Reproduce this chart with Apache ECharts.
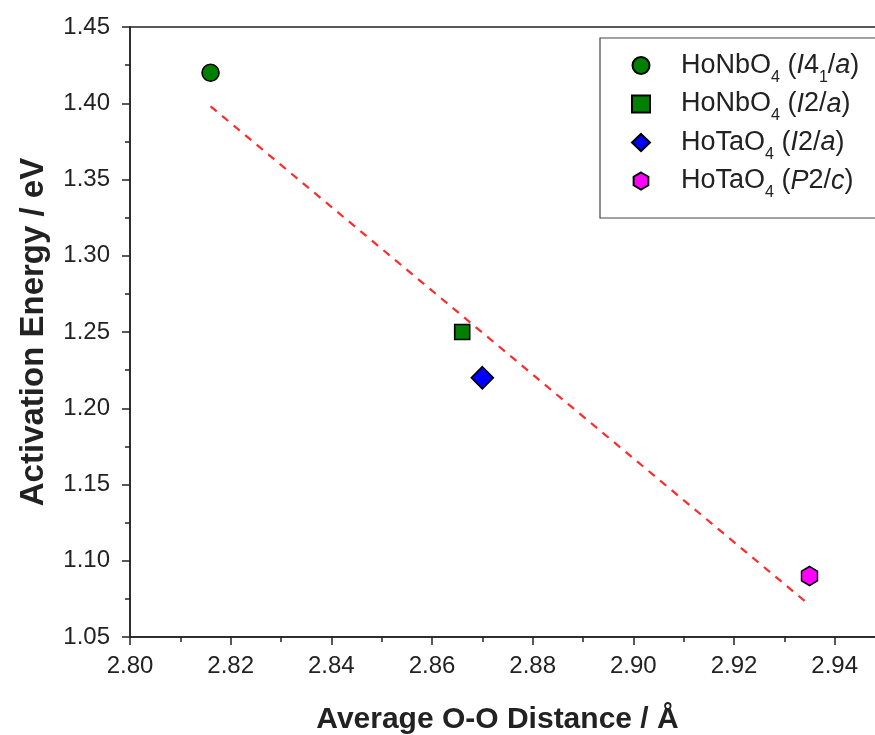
<!DOCTYPE html>
<html>
<head>
<meta charset="utf-8">
<script src="https://cdn.jsdelivr.net/npm/echarts@6/dist/echarts.min.js"></script>
<style>
html,body{margin:0;padding:0;background:#fff;overflow:hidden;}
#c{width:875px;height:735px;}
</style>
</head>
<body>
<div id="c"></div>
<script>
// ---- data ----
const seriesNames = ['HoNbO4 (I41/a)', 'HoNbO4 (I2/a)', 'HoTaO4 (I2/a)', 'HoTaO4 (P2/c)'];
const legendRich = [
  '{n|HoNbO}{s|4}{n| (}{i|I}{n|4}{s|1}{n|/}{i|a}{n|)}',
  '{n|HoNbO}{s|4}{n| (}{i|I}{n|2/}{i|a}{n|)}',
  '{n|HoTaO}{s|4}{n| (}{i|I}{n|2/}{i|a}{n|)}',
  '{n|HoTaO}{s|4}{n| (}{i|P}{n|2/}{i|c}{n|)}'
];
const distance = [2.816, 2.866, 2.870, 2.935];
const energy = [1.42, 1.25, 1.22, 1.09];
const fitX = [2.816, 2.935];
const fitY = [1.398, 1.071];
const xTicks = {min: 2.80, max: 2.95, interval: 0.02};
const yTicks = {min: 1.05, max: 1.45, interval: 0.05};

const colors = ['#007f00', '#007f00', '#0000ff', '#ff00ff'];
const symbols = ['circle', 'rect', 'diamond', 'path://M0,-10 L8.66,-5 L8.66,5 L0,10 L-8.66,5 L-8.66,-5 Z'];
const sizes = [17, 15, 22, [16, 19]];
const FONT = '"Liberation Sans", Arial, sans-serif';

const chart = echarts.init(document.getElementById('c'));
const scatterSeries = seriesNames.map((nm, i) => ({
  name: nm,
  type: 'scatter',
  symbol: symbols[i],
  symbolSize: sizes[i],
  itemStyle: {color: colors[i], borderColor: '#000', borderWidth: 1.6, opacity: 1},
  emphasis: {disabled: true},
  data: [[distance[i], energy[i]]],
  z: 5
}));

chart.setOption({
  animation: false,
  backgroundColor: '#fff',
  grid: {left: 130, width: 755, top: 27, bottom: 98, outerBoundsMode: 'none', containLabel: false,
    show: true, borderColor: '#222', borderWidth: 1.5, backgroundColor: 'transparent'},
  xAxis: {
    type: 'value', min: xTicks.min, max: xTicks.max, interval: xTicks.interval,
    name: 'Average O-O Distance / Å', nameLocation: 'middle', nameGap: 68,
    nameTextStyle: {fontFamily: FONT, fontSize: 30, fontWeight: 'bold', color: '#222', padding: [0, 20, 0, 0]},
    axisLine: {lineStyle: {color: '#222', width: 1.5}},
    axisTick: {show: true, inside: false, length: 8, lineStyle: {color: '#222', width: 1.5}},
    minorTick: {show: true, splitNumber: 2, length: 5, lineStyle: {color: '#222', width: 1.5}},
    splitLine: {show: false},
    axisLabel: {fontFamily: FONT, fontSize: 24, color: '#222', margin: 17, showMaxLabel: false,
      formatter: v => v.toFixed(2)}
  },
  yAxis: {
    type: 'value', min: yTicks.min, max: yTicks.max, interval: yTicks.interval,
    name: 'Activation Energy / eV', nameLocation: 'middle', nameGap: 80,
    nameTextStyle: {fontFamily: FONT, fontSize: 33, fontWeight: 'bold', color: '#222'},
    axisLine: {lineStyle: {color: '#222', width: 1.5}},
    axisTick: {show: true, inside: false, length: 8, lineStyle: {color: '#222', width: 1.5}},
    minorTick: {show: true, splitNumber: 2, length: 5, lineStyle: {color: '#222', width: 1.5}},
    splitLine: {show: false},
    axisLabel: {fontFamily: FONT, fontSize: 24, color: '#222', margin: 20,
      formatter: v => v.toFixed(2)}
  },
  legend: {
    orient: 'vertical', left: 600, top: 38,
    data: seriesNames,
    backgroundColor: '#fff', borderColor: '#444', borderWidth: 1.2, borderRadius: 0,
    padding: [14, 30, 17, 31], itemGap: 5, itemWidth: 18, itemHeight: 17,
    formatter: name => legendRich[seriesNames.indexOf(name)],
    textStyle: {
      fontFamily: FONT, color: '#222', padding: [0, 0, 0, 26],
      rich: {
        n: {fontFamily: FONT, fontSize: 27, color: '#222', lineHeight: 28},
        i: {fontFamily: FONT, fontSize: 27, color: '#222', fontStyle: 'italic', lineHeight: 28},
        s: {fontFamily: FONT, fontSize: 16, color: '#222', verticalAlign: 'bottom', lineHeight: 15, padding: [0, 0, -6, 0]}
      }
    }
  },
  series: [
    {
      name: 'fit', type: 'line', data: fitX.map((x, i) => [x, fitY[i]]),
      symbol: 'none', silent: true,
      lineStyle: {color: '#ff2b2b', width: 2.2, type: [8, 7]}, z: 2
    },
    ...scatterSeries
  ]
});
</script>
</body>
</html>
